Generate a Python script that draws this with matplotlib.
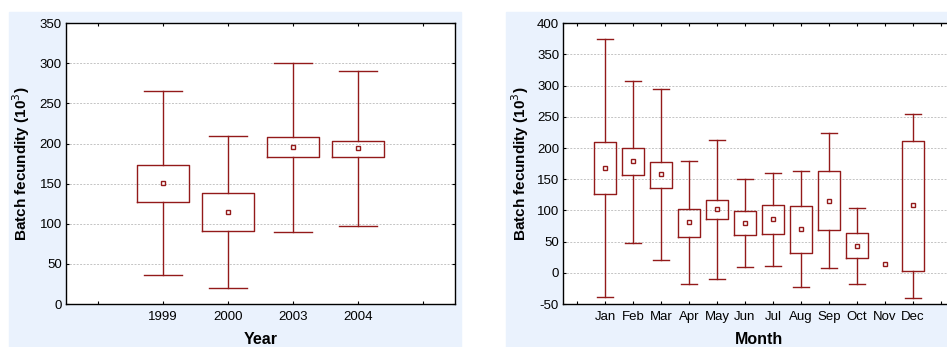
"""Batch fecundity box plots by year and by month."""

import matplotlib

matplotlib.use("Agg")
import matplotlib.pyplot as plt
import numpy as np
from matplotlib.patches import Rectangle

plt.rcParams["font.family"] = ["Liberation Sans", "DejaVu Sans"]
plt.rcParams["axes.unicode_minus"] = False

# --- data: mean, box (q1, q3) and whiskers (lo, hi), in 10^3 eggs ---
years = ["1999", "2000", "2003", "2004"]
year_mean = [150.5, 114.8, 196.2, 194.1]
year_q1 = [126.8, 91.0, 183.0, 183.0]
year_q3 = [173.5, 138.4, 207.9, 203.7]
year_lo = [35.8, 20.0, 90.2, 96.9]
year_hi = [265.2, 209.5, 300.5, 290.1]

months = ["Jan", "Feb", "Mar", "Apr", "May", "Jun",
          "Jul", "Aug", "Sep", "Oct", "Nov", "Dec"]
month_mean = [168.6, 178.7, 158.4, 81.0, 101.8, 79.3,
              86.3, 70.2, 115.7, 43.5, 13.6, 108.2]
month_q1 = [126.4, 156.3, 136.5, 58.0, 85.7, 60.6,
            62.2, 31.2, 68.1, 23.2, np.nan, 2.4]
month_q3 = [210.3, 199.6, 177.1, 102.8, 116.2, 98.6,
            109.2, 107.6, 163.8, 63.8, np.nan, 211.9]
month_lo = [-38.3, 48.3, 20.0, -18.0, -10.5, 9.3,
            11.4, -23.3, 8.2, -18.0, np.nan, -40.9]
month_hi = [374.3, 307.5, 294.2, 179.3, 212.4, 149.9,
            160.0, 162.7, 223.6, 104.4, np.nan, 255.2]

RED = "#931a1a"
PANEL_BG = "#eaf2fd"


def _stats(mean, q1, q3, lo, hi):
    out = []
    for i, (m, a, b, w0, w1) in enumerate(zip(mean, q1, q3, lo, hi)):
        if np.isnan(a):
            continue  # Nov: a single fish, mean only
        out.append(dict(pos=i + 1, med=m, q1=a, q3=b, whislo=w0, whishi=w1, fliers=[]))
    return out


def _draw(ax, labels, mean, q1, q3, lo, hi, ylim, yticks, xlabel, ylab_x):
    stats = _stats(mean, q1, q3, lo, hi)
    line = dict(color=RED, lw=1.0)
    ax.bxp(
        stats,
        positions=[s.pop("pos") for s in stats],
        widths=0.8,
        capwidths=0.58,
        boxprops=line,
        whiskerprops=line,
        capprops=line,
        medianprops=dict(visible=False),
        showfliers=False,
        manage_ticks=False,
    )
    pos = np.arange(1, len(labels) + 1)
    ax.plot(pos, mean, ls="none", marker="s", ms=3.0, mfc="white",
            mec=RED, mew=1.0, zorder=4)

    ax.set_ylim(*ylim)
    ax.set_yticks(yticks)
    ax.set_xticks(np.arange(0, len(labels) + 2))
    ax.set_xticklabels([""] + labels + [""])
    ax.set_xlim(-0.5, len(labels) + 1.5)
    ax.yaxis.grid(True, color="#c4c4c4", lw=0.7, ls=(0, (2, 1.5)))
    ax.set_axisbelow(True)
    ax.tick_params(direction="in", length=2.5, width=0.8, top=True, right=True,
                   labelsize=9.5, colors="black")
    ax.tick_params(axis="x", pad=5)
    ax.tick_params(axis="y", pad=3)
    for sp in ax.spines.values():
        sp.set_linewidth(1.0)
    ax.set_ylabel("Batch fecundity (10$^3$)", fontsize=11, fontweight="bold")
    ax.set_xlabel(xlabel, fontsize=11.5, fontweight="bold")
    ax.yaxis.set_label_coords(ylab_x, 0.5)
    ax.xaxis.set_label_coords(0.5, -0.1)


fig = plt.figure(figsize=(9.47, 3.47), dpi=100)
fig.patches.append(Rectangle((0.0095, 0.0), 0.4773, 0.9654,
                             transform=fig.transFigure, color=PANEL_BG, zorder=-1))
fig.patches.append(Rectangle((0.5343, 0.0), 0.4657, 0.9654,
                             transform=fig.transFigure, color=PANEL_BG, zorder=-1))

ax0 = fig.add_axes([0.0697, 0.1239, 0.4108, 0.809])
ax1 = fig.add_axes([0.5948, 0.1239, 0.4133, 0.809])

_draw(ax0, years, year_mean, year_q1, year_q3, year_lo, year_hi,
      (0, 350), np.arange(0, 351, 50), "Year", -0.087)
_draw(ax1, months, month_mean, month_q1, month_q3, month_lo, month_hi,
      (-50, 400), np.arange(-50, 401, 50), "Month", -0.083)

fig.savefig("out.png", dpi=100)
plt.close(fig)
